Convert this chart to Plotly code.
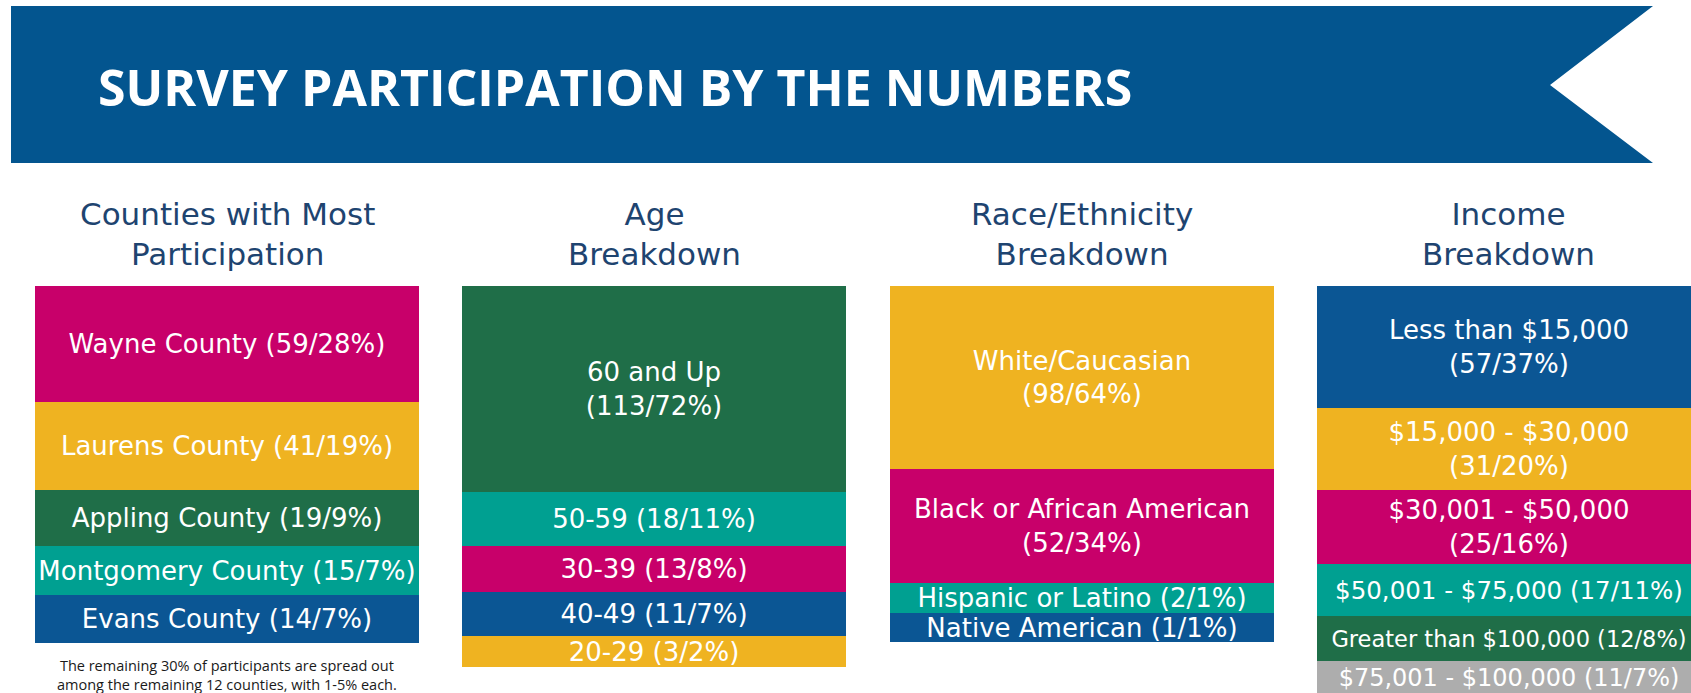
import plotly.graph_objects as go

# ---------------- data ----------------
county_names = ["Wayne County", "Laurens County", "Appling County",
                "Montgomery County", "Evans County"]
county_counts = [59, 41, 19, 15, 14]
county_pcts = [28, 19, 9, 7, 7]

age_groups = ["60 and Up", "50-59", "30-39", "40-49", "20-29"]
age_counts = [113, 18, 13, 11, 3]
age_pcts = [72, 11, 8, 7, 2]

race_groups = ["White/Caucasian", "Black or African American",
               "Hispanic or Latino", "Native American"]
race_counts = [98, 52, 2, 1]
race_pcts = [64, 34, 1, 1]

income_groups = ["Less than $15,000", "$15,000 - $30,000", "$30,001 - $50,000",
                 "$50,001 - $75,000", "Greater than $100,000", "$75,001 - $100,000"]
income_counts = [57, 31, 25, 17, 12, 11]
income_pcts = [37, 20, 16, 11, 8, 7]

panel_titles = ["Counties with Most<br>Participation", "Age<br>Breakdown",
                "Race/Ethnicity<br>Breakdown", "Income<br>Breakdown"]

title_text = "SURVEY PARTICIPATION BY THE NUMBERS"
note_text = ("The remaining 30% of participants are spread out<br>"
             "among the remaining 12 counties, with 1-5% each.")

# ---------------- style ----------------
MAGENTA = "#C8006A"
YELLOW = "#EFB321"
GREEN = "#1F6E48"
TEAL = "#00A091"
BLUE = "#0B5694"
GREY = "#ADADAD"
BANNER = "#03558F"
HEAD = "#1E4470"

county_colors = [MAGENTA, YELLOW, GREEN, TEAL, BLUE]
age_colors = [GREEN, TEAL, MAGENTA, BLUE, YELLOW]
race_colors = [YELLOW, MAGENTA, TEAL, BLUE]
income_colors = [BLUE, YELLOW, MAGENTA, TEAL, GREEN, GREY]

# labels that are set on two lines in the infographic
WRAPPED = {"60 and Up", "White/Caucasian", "Black or African American",
           "Less than $15,000", "$15,000 - $30,000", "$30,001 - $50,000"}
LABEL_SIZE = {"Greater than $100,000": 22.5, "$50,001 - $75,000": 24.5,
              "$75,001 - $100,000": 24}
TOP_ANCHORED = {"$75,001 - $100,000"}

# each tile = its count plus a fixed room for its label (infographic layout)
LABEL_ROOM = 18
EXTRA_LINE_ROOM = 6

W, H = 1691, 693
LABEL_FONT = "DejaVu Sans"
COL0_PX, COL_STEP_PX, TOP_PX, PX_PER_UNIT = 227, 427.3, 286, 1.5

panels = [
    (county_names, county_counts, county_pcts, county_colors),
    (age_groups, age_counts, age_pcts, age_colors),
    (race_groups, race_counts, race_pcts, race_colors),
    (income_groups, income_counts, income_pcts, income_colors),
]

fig = go.Figure()
for col, (names, counts, pcts, colors) in enumerate(panels):
    for name, n, p, c in zip(names, counts, pcts, colors):
        wrapped = name in WRAPPED
        label = f"{name}<br>({n}/{p}%)" if wrapped else f"{name} ({n}/{p}%)"
        size = n + LABEL_ROOM + (EXTRA_LINE_ROOM if wrapped else 0)
        fig.add_trace(go.Bar(
            x=[col], y=[size], width=384 / COL_STEP_PX,
            marker=dict(color=c, line=dict(width=0)),
            text=[label], textposition="inside",
            insidetextanchor="start" if name in TOP_ANCHORED else "middle",
            textangle=0, constraintext="none",
            textfont=dict(family=LABEL_FONT, size=LABEL_SIZE.get(name, 26), color="white"),
            hovertext=[f"{name}: {n} ({p}%)"], hoverinfo="text",
            showlegend=False,
        ))

# banner (decoration, paper coordinates)
def px(x, y):
    return f"{x / W:.5f},{1 - y / H:.5f}"

banner_path = ("M " + px(11, 6) + " L " + px(1653, 6) + " L " + px(1550, 85) +
               " L " + px(1653, 163) + " L " + px(11, 163) + " Z")
fig.add_shape(type="path", path=banner_path, xref="paper", yref="paper",
              fillcolor=BANNER, line=dict(width=0), layer="below")

annotations = [
    dict(text=title_text, xref="paper", yref="paper", x=96 / W, y=1 - 87 / H,
         xanchor="left", yanchor="middle", showarrow=False,
         font=dict(family="Open Sans", size=50, weight=700, color="white")),
    dict(text=note_text, xref="x", yref="paper", x=0, y=1 - 675 / H,
         xanchor="center", yanchor="middle", showarrow=False,
         font=dict(family="Open Sans", size=14.5, color="#1a1a1a")),
]
for col, t in enumerate(panel_titles):
    annotations.append(dict(text=t, xref="x", yref="paper", x=col, y=1 - 234 / H,
                            xanchor="center", yanchor="middle", showarrow=False,
                            font=dict(family=LABEL_FONT, size=31, color=HEAD)))

fig.update_layout(
    width=W, height=H,
    margin=dict(l=0, r=0, t=0, b=0),
    paper_bgcolor="white", plot_bgcolor="white",
    barmode="stack", bargap=0,
    xaxis=dict(range=[-COL0_PX / COL_STEP_PX, (W - COL0_PX) / COL_STEP_PX],
               visible=False, fixedrange=True),
    yaxis=dict(range=[(H - TOP_PX) / PX_PER_UNIT, -TOP_PX / PX_PER_UNIT],
               visible=False, fixedrange=True),
    annotations=annotations,
)

# the page body has a default 8px margin; remove it so the chart fills the window
fig.write_html("out.html",
               config={"displayModeBar": False},
               post_script="document.body.style.margin='0';document.body.style.overflow='hidden';")
